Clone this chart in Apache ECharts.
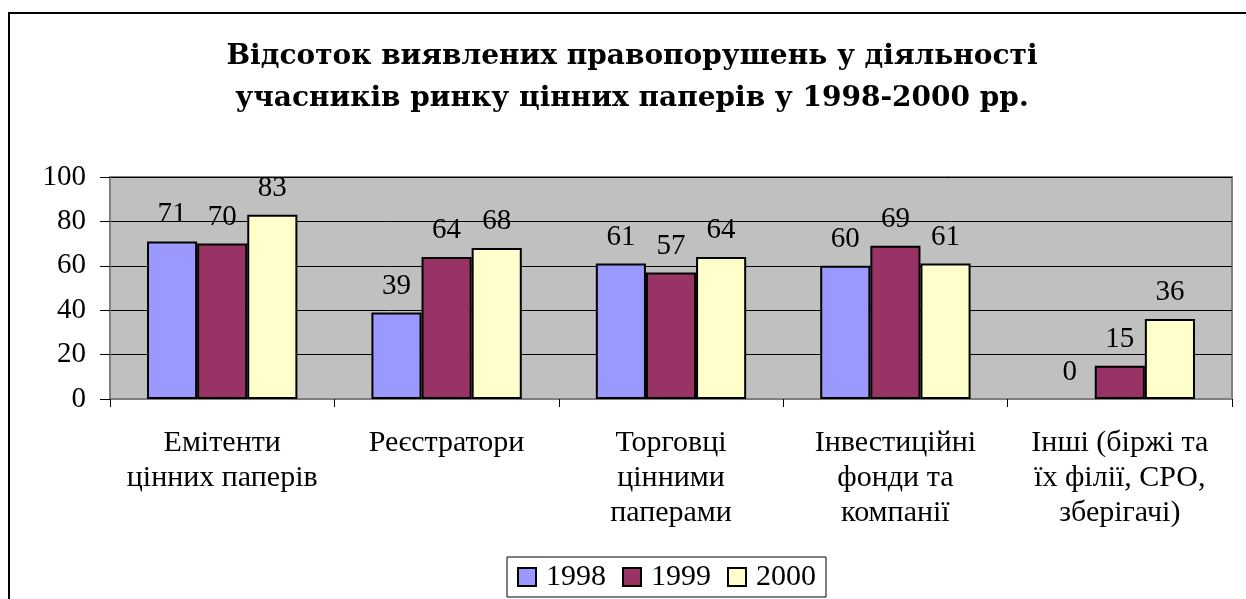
<!DOCTYPE html>
<html>
<head>
<meta charset="utf-8">
<script src="https://cdn.jsdelivr.net/npm/echarts@6/dist/echarts.min.js"></script>
<style>
  html, body { margin: 0; padding: 0; background: #fff; }
  #chart { width: 1246px; height: 599px; }
</style>
</head>
<body>
<div id="chart"></div>
<script>
// дані
var categories = [
    'Емітенти\nцінних паперів',
    'Реєстратори',
    'Торговці\nцінними\nпаперами',
    'Інвестиційні\nфонди та\nкомпанії',
    'Інші (біржі та\nїх філії, СРО,\nзберігачі)'
];
var years = ['1998', '1999', '2000'];
var v1998 = [71, 39, 61, 60, 0];
var v1999 = [70, 64, 57, 69, 15];
var v2000 = [83, 68, 64, 61, 36];
var colors = ['#9999FF', '#993366', '#FFFFCC'];

var serif = '"Liberation Serif", "Times New Roman", serif';

function bar(name, data, color) {
    return {
        name: name,
        type: 'bar',
        // нульовий стовпчик без рамки
        data: data.map(function (v) {
            return v === 0 ? { value: v, itemStyle: { borderWidth: 0 } } : v;
        }),
        barGap: '0%',
        barCategoryGap: '33%',
        itemStyle: { color: color, borderColor: '#000', borderWidth: 2 },
        label: {
            show: true,
            position: 'top',
            distance: 12,
            fontFamily: serif,
            fontSize: 29,
            color: '#000'
        }
    };
}

var chart = echarts.init(document.getElementById('chart'));
var option = {
    animation: false,
    backgroundColor: '#fff',
    title: {
        text: 'Відсоток виявлених правопорушень у діяльності\nучасників ринку цінних паперів у 1998-2000 рр.',
        left: 627,
        top: 31,
        textAlign: 'center',
        textStyle: {
            fontFamily: '"DejaVu Serif", serif',
            fontWeight: 'bold',
            fontSize: 28,
            lineHeight: 42,
            color: '#000'
        }
    },
    graphic: [{
        type: 'rect',
        shape: { x: 9, y: 13, width: 1400, height: 800 },
        style: { fill: 'none', stroke: '#000', lineWidth: 2 },
        silent: true
    }],
    legend: {
        data: years,
        left: 507,
        top: 557,
        itemWidth: 18,
        itemHeight: 18,
        itemGap: 16,
        padding: [5, 10, 5, 10],
        borderColor: '#000',
        borderWidth: 1,
        icon: 'rect',
        textStyle: { fontFamily: serif, fontSize: 30, color: '#000', padding: [0, 0, 0, 5] }
    },
    grid: {
        left: 110,
        right: 14,
        top: 177,
        bottom: 200,
        show: true,
        backgroundColor: '#C0C0C0',
        borderColor: '#808080',
        borderWidth: 2
    },
    xAxis: {
        type: 'category',
        data: categories,
        axisLine: { lineStyle: { color: '#808080', width: 2 } },
        axisTick: { show: true, length: 8, lineStyle: { color: '#000' } },
        axisLabel: {
            margin: 27,
            fontFamily: serif,
            fontSize: 30,
            lineHeight: 35,
            color: '#000',
            interval: 0
        }
    },
    yAxis: {
        type: 'value',
        min: 0,
        max: 100,
        interval: 20,
        axisLine: { show: true, lineStyle: { color: '#808080', width: 2 } },
        axisTick: { show: true, length: 10, lineStyle: { color: '#000' } },
        splitLine: { lineStyle: { color: '#000', width: 1 } },
        axisLabel: {
            margin: 24,
            fontFamily: serif,
            fontSize: 29,
            color: '#000'
        }
    },
    color: colors,
    series: [
        bar(years[0], v1998, colors[0]),
        bar(years[1], v1999, colors[1]),
        bar(years[2], v2000, colors[2])
    ]
};
chart.setOption(option);
</script>
</body>
</html>
